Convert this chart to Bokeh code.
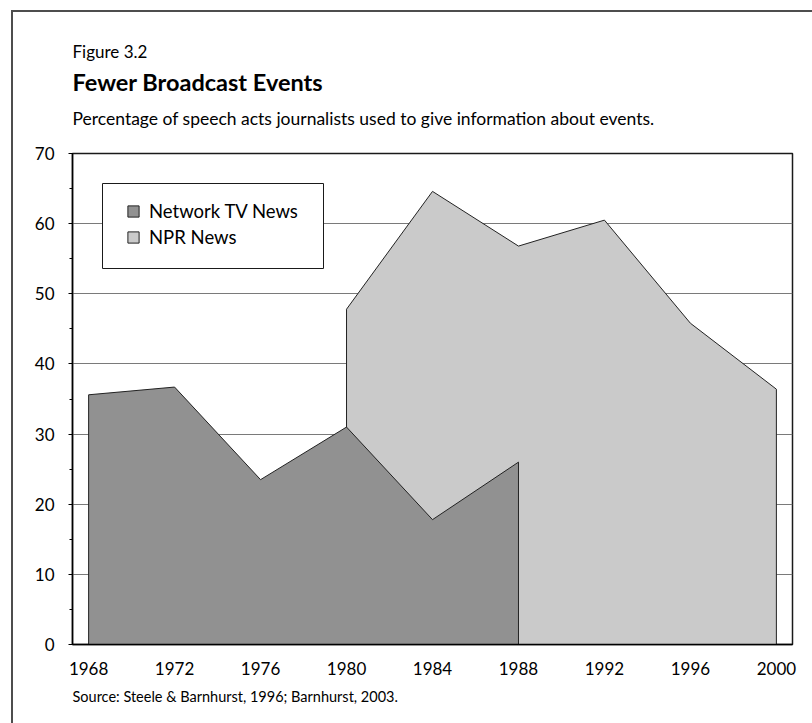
from bokeh.plotting import figure
from bokeh.models import (Range1d, FixedTicker, SingleIntervalTicker, Legend,
                          LegendItem, Title, BoxAnnotation)
from bokeh.embed import file_html
from bokeh.resources import INLINE

# ---- data ----
years_tv = [1968, 1972, 1976, 1980, 1984, 1988]
tv_values = [35.6, 36.7, 23.5, 31.0, 17.8, 26.0]
years_npr = [1980, 1984, 1988, 1992, 1996, 2000]
npr_values = [47.8, 64.6, 56.8, 60.5, 45.8, 36.4]
x_ticks = [1968, 1972, 1976, 1980, 1984, 1988, 1992, 1996, 2000]
series_names = ["Network TV News", "NPR News"]

FONT = "Lato"

p = figure(width=812, height=723, output_backend="svg", toolbar_location=None,
           x_range=Range1d(1967.25, 2000.75), y_range=Range1d(0, 70),
           min_border_left=72, min_border_right=20, min_border_top=153,
           min_border_bottom=79)
# outer panel frame (only its left and top edges fall inside the window)
p.styles = {"background-color": "white",
            "background-image": "linear-gradient(#4d4d4d, #4d4d4d), linear-gradient(#4d4d4d, #4d4d4d)",
            "background-size": "2px 100%, 100% 2px",
            "background-position": "11px 10px, 11px 10px",
            "background-repeat": "no-repeat"}

p.background_fill_color = "white"
p.border_fill_alpha = 0
p.outline_line_color = "#1a1a1a"
p.outline_line_width = 1.5

# grid
p.xgrid.visible = False
p.ygrid.ticker = FixedTicker(ticks=[10, 20, 30, 40, 50, 60])
p.ygrid.grid_line_color = "#7a7a7a"
p.ygrid.grid_line_width = 1

# y axis
p.yaxis.ticker = SingleIntervalTicker(interval=10, num_minor_ticks=2)
p.yaxis.axis_line_color = "black"
p.yaxis.axis_line_width = 1.5
p.yaxis.major_tick_out = 4
p.yaxis.major_tick_in = 0
p.yaxis.minor_tick_out = 3
p.yaxis.minor_tick_in = 0
p.yaxis.major_tick_line_color = "black"
p.yaxis.minor_tick_line_color = "black"
p.yaxis.major_label_text_font = FONT
p.yaxis.major_label_text_font_size = "17px"
p.yaxis.major_label_text_color = "black"
p.yaxis.major_label_standoff = 14

# x axis
p.xaxis.ticker = FixedTicker(ticks=x_ticks)
p.xaxis.axis_line_color = "black"
p.xaxis.axis_line_width = 1.5
p.xaxis.major_tick_out = 0
p.xaxis.major_tick_in = 0
p.xaxis.minor_tick_line_color = None
p.xaxis.major_tick_line_color = None
p.xaxis.major_label_text_font = FONT
p.xaxis.major_label_text_font_size = "17px"
p.xaxis.major_label_text_color = "black"
p.xaxis.major_label_standoff = 17

# areas (closed polygons down to zero)
npr_xs = [years_npr[0]] + years_npr + [years_npr[-1]]
npr_ys = [0] + npr_values + [0]
tv_xs = [years_tv[0]] + years_tv + [years_tv[-1]]
tv_ys = [0] + tv_values + [0]

r_npr = p.patch(npr_xs, npr_ys, fill_color="#cacaca", line_color="#222222", line_width=1)
r_tv = p.patch(tv_xs, tv_ys, fill_color="#919191", line_color="#222222", line_width=1)

# legend frame (inside plot area)
p.add_layout(BoxAnnotation(left=30, right=251, top=461, bottom=376,
                           left_units="screen", right_units="screen",
                           top_units="screen", bottom_units="screen",
                           fill_color="white", fill_alpha=1,
                           line_color="#1a1a1a", line_width=1, line_alpha=1))

legend = Legend(items=[LegendItem(label=series_names[0], renderers=[r_tv]),
                       LegendItem(label=series_names[1], renderers=[r_npr])],
                location=(54, 394))
legend.border_line_color = None
legend.background_fill_alpha = 0
legend.padding = 0
legend.spacing = 0
legend.glyph_width = 14
legend.glyph_height = 14
legend.label_standoff = 9
legend.label_height = 26
legend.label_text_font = FONT
legend.label_text_font_size = "18.5px"
legend.label_text_color = "black"
legend.margin = 0
p.add_layout(legend)

# titles above (first added = nearest to the frame)
p.add_layout(Title(text="Percentage of speech acts journalists used to give information about events.",
                   align="left", offset=0, standoff=0,
                   padding=dict(top=0, right=0, bottom=25, left=0), text_font=FONT,
                   text_font_size="17.5px", text_font_style="normal", text_color="black"), "above")
p.add_layout(Title(text="Fewer Broadcast Events", align="left", offset=0, standoff=0,
                   padding=dict(top=0, right=0, bottom=10, left=0),
                   text_font=FONT, text_font_size="23.5px", text_font_style="bold",
                   text_color="black"), "above")
p.add_layout(Title(text="Figure 3.2", align="left", offset=0, standoff=0,
                   padding=dict(top=0, right=0, bottom=4, left=0),
                   text_font=FONT, text_font_size="17px", text_font_style="normal",
                   text_color="black"), "above")
# source note below the x axis
p.add_layout(Title(text="Source: Steele & Barnhurst, 1996; Barnhurst, 2003.",
                   align="left", offset=0, standoff=16, text_font=FONT,
                   text_font_size="14.5px", text_font_style="normal",
                   text_color="black"), "below")

open("out.html", "w").write(file_html(p, INLINE))
